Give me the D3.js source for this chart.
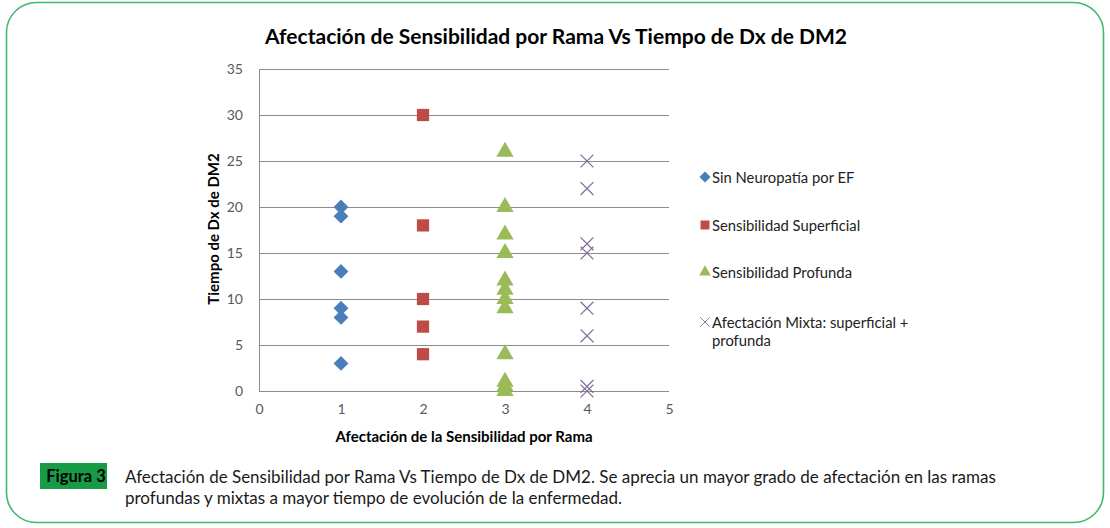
<!DOCTYPE html>
<html><head><meta charset="utf-8">
<script src="https://cdn.jsdelivr.net/npm/d3@7"></script>
<style>body{margin:0;background:#fff}svg{display:block}</style>
</head><body>
<svg id="c" width="1110" height="528"></svg>
<script>
const seriesNames = ["Sin Neuropatía por EF","Sensibilidad Superficial","Sensibilidad Profunda","Afectación Mixta: superficial + profunda"];
const sinNeuropatia = [[1,20],[1,19],[1,13],[1,9],[1,8],[1,3]];
const superficial = [[2,30],[2,18],[2,10],[2,7],[2,4]];
const profunda = [[3,26],[3,20],[3,17],[3,15],[3,12],[3,11],[3,10],[3,9],[3,4],[3,1],[3,0.5],[3,0]];
const mixta = [[4,25],[4,22],[4,16],[4,15],[4,9],[4,6],[4,0.5],[4,0]];
const xTicks = [0,1,2,3,4,5];
const yTicks = [0,5,10,15,20,25,30,35];
const colors = ["#4a7ebb","#be4b48","#9bbb59","#7d6a99"];

const svg = d3.select("#c");
const font = "Lato, 'Open Sans', sans-serif";

// border
svg.append("rect").attr("x",6.5).attr("y",2.5).attr("width",1097).attr("height",520)
  .attr("rx",30).attr("ry",30).attr("fill","none").attr("stroke","#3dbb6b").attr("stroke-width",1.6);

const x = d3.scaleLinear().domain([0,5]).range([259,669]);
const y = d3.scaleLinear().domain([0,35]).range([391,69]);

// gridlines
svg.append("g").selectAll("line").data(yTicks).join("line")
  .attr("x1",x(0)).attr("x2",x(5)).attr("y1",d=>y(d)+0.5).attr("y2",d=>y(d)+0.5)
  .attr("stroke","#8c8c8c").attr("stroke-width",1);
svg.append("line").attr("x1",x(0)+0.5).attr("x2",x(0)+0.5).attr("y1",y(35)).attr("y2",y(0))
  .attr("stroke","#8c8c8c");

// axes labels via d3 axes
const yAxis = svg.append("g").attr("transform",`translate(${x(0)},0)`)
  .call(d3.axisLeft(y).tickValues(yTicks).tickFormat(d3.format("d")).tickSize(0).tickPadding(16));
yAxis.select(".domain").remove();
yAxis.selectAll("text").attr("font-family",font).attr("font-size",14).attr("fill","#595959");
const xAxis = svg.append("g").attr("transform",`translate(0,${y(0)})`)
  .call(d3.axisBottom(x).tickValues(xTicks).tickFormat(d3.format("d")).tickSize(0).tickPadding(13));
xAxis.select(".domain").remove();
xAxis.selectAll("text").attr("font-family",font).attr("font-size",14).attr("fill","#595959");

// titles
svg.append("text").attr("x",556).attr("y",44).attr("text-anchor","middle")
  .attr("font-family",font).attr("font-weight","bold").attr("font-size",21).attr("fill","#000")
  .text("Afectación de Sensibilidad por Rama Vs Tiempo de Dx de DM2");
svg.append("text").attr("x",464).attr("y",442).attr("text-anchor","middle")
  .attr("font-family",font).attr("font-weight","bold").attr("font-size",15).attr("fill","#000")
  .text("Afectación de la Sensibilidad por Rama");
svg.append("text").attr("transform","translate(219,229) rotate(-90)").attr("text-anchor","middle")
  .attr("font-family",font).attr("font-weight","bold").attr("font-size",15).attr("fill","#000")
  .text("Tiempo de Dx de DM2");

// markers
const rotSquare = {draw(ctx, size){ const r = Math.sqrt(size/2); ctx.moveTo(0,-r); ctx.lineTo(r,0); ctx.lineTo(0,r); ctx.lineTo(-r,0); ctx.closePath(); }};
const sym = {
  diamond: d3.symbol().type(rotSquare).size(110),
  square: d3.symbol().type(d3.symbolSquare).size(150),
  triangle: d3.symbol().type(d3.symbolTriangle).size(130),
  cross: d3.symbol().type(d3.symbolX).size(110)
};
function draw(data, kind, color){
  const g = svg.append("g");
  g.selectAll("path").data(data).join("path")
    .attr("transform",d=>`translate(${x(d[0])},${y(d[1])})`)
    .attr("d",sym[kind])
    .attr("fill", kind==="cross" ? "none" : color)
    .attr("stroke", kind==="cross" ? color : "none")
    .attr("stroke-width",1.2);
}
draw(sinNeuropatia,"diamond",colors[0]);
draw(superficial,"square",colors[1]);
draw(profunda,"triangle",colors[2]);
draw(mixta,"cross",colors[3]);

// legend
const legY = [178,226,273,323];
const kinds = ["diamond","square","triangle","cross"];
const legSym = {
  diamond: d3.symbol().type(rotSquare).size(60),
  square: d3.symbol().type(d3.symbolSquare).size(80),
  triangle: d3.symbol().type(d3.symbolTriangle).size(60),
  cross: d3.symbol().type(d3.symbolX).size(60)
};
seriesNames.forEach((n,i)=>{
  svg.append("path").attr("transform",`translate(705,${legY[i]-1})`).attr("d",legSym[kinds[i]])
    .attr("fill", kinds[i]==="cross"?"none":colors[i])
    .attr("stroke", kinds[i]==="cross"?"#8a7fa6":"none").attr("stroke-width",1);
  const t = svg.append("text").attr("x",712).attr("y",legY[i]+5)
    .attr("font-family",font).attr("font-size",14.8).attr("fill","#222");
  if(i===3){
    t.append("tspan").attr("x",712).text("Afectación Mixta: superficial +");
    t.append("tspan").attr("x",712).attr("dy",18).text("profunda");
  } else t.text(n);
});

// caption
svg.append("rect").attr("x",40).attr("y",463).attr("width",67).attr("height",26).attr("fill","#179b46");
svg.append("text").attr("x",76).attr("y",482).attr("text-anchor","middle")
  .attr("font-family",font).attr("font-weight","bold").attr("font-size",16.5).attr("fill","#000").text("Figura 3");
const cap = svg.append("text").attr("font-family",font).attr("font-size",17).attr("fill","#1a1a1a");
cap.append("tspan").attr("x",125).attr("y",483)
  .text("Afectación de Sensibilidad por Rama Vs Tiempo de Dx de DM2. Se aprecia un mayor grado de afectación en las ramas");
cap.append("tspan").attr("x",125).attr("y",504)
  .text("profundas y mixtas a mayor tiempo de evolución de la enfermedad.");
</script>
</body></html>
